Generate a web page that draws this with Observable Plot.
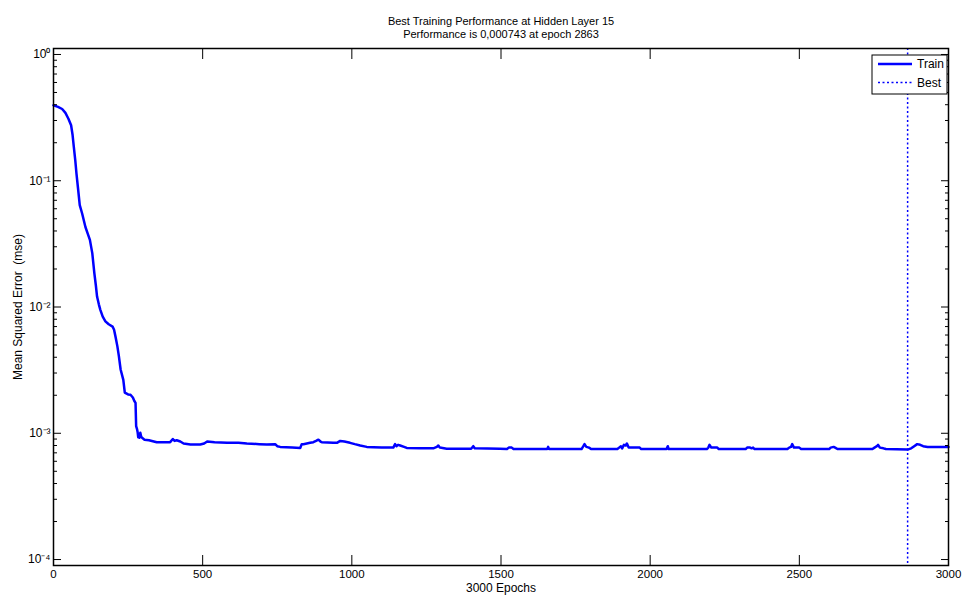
<!DOCTYPE html>
<html><head><meta charset="utf-8">
<script src="https://cdn.jsdelivr.net/npm/d3@7"></script>
<script src="https://cdn.jsdelivr.net/npm/@observablehq/plot@0.6"></script>
<style>
body{margin:0;background:#fff;}
#chart{position:relative;width:967px;height:599px;}
</style></head><body><div id="chart"></div>
<script>
// ---- data ----
const epochs = [0,15,29,40,50,59,64,68,73,77,82,88,96,107,115,122,130,137,142,146,152,157,165,174,185,198,203,208,214,219,225,234,239,250,258,266,271,275,277,280,282,284,286,288,291,294,297,305,320,346,391,400,406,413,425,436,459,492,505,515,540,582,620,648,690,715,743,750,760,800,827,832,838,860,871,880,888,895,899,938,950,961,975,994,1010,1028,1050,1072,1100,1139,1145,1150,1155,1162,1175,1184,1230,1273,1285,1290,1295,1318,1400,1407,1412,1496,1520,1526,1536,1542,1655,1658,1661,1770,1776,1780,1786,1795,1802,1890,1896,1902,1906,1912,1918,1922,1928,1965,1970,2055,2059,2062,2190,2195,2199,2205,2225,2230,2320,2325,2335,2340,2345,2350,2460,2466,2472,2476,2482,2500,2506,2600,2605,2615,2620,2628,2745,2752,2760,2764,2770,2782,2790,2863,2875,2885,2895,2905,2915,2930,3000];
const mse = [0.396,0.385,0.37,0.345,0.31,0.275,0.23,0.186,0.145,0.114,0.088,0.064,0.055,0.043,0.038,0.034,0.0267,0.0185,0.0148,0.0121,0.0105,0.0095,0.0084,0.0077,0.0073,0.0070,0.0066,0.0058,0.0049,0.0041,0.0032,0.00265,0.0021,0.00203,0.00202,0.00192,0.0018,0.00174,0.00114,0.00108,0.00102,0.00093,0.00098,0.00092,0.00101,0.00094,0.00092,0.00089,0.00088,0.00085,0.00085,0.0009,0.00087,0.00088,0.00086,0.00083,0.000815,0.000815,0.00083,0.00086,0.00085,0.00084,0.00084,0.00083,0.00082,0.000815,0.00082,0.00079,0.00078,0.00077,0.000765,0.00082,0.00082,0.00084,0.00085,0.00087,0.00089,0.00086,0.00085,0.00084,0.00084,0.00087,0.00086,0.00084,0.00082,0.0008,0.00078,0.000775,0.00077,0.00077,0.00082,0.00079,0.00081,0.0008,0.00078,0.000765,0.00076,0.00076,0.00078,0.0008,0.00077,0.000755,0.000755,0.00079,0.00076,0.000755,0.00075,0.00077,0.00077,0.00075,0.00075,0.00078,0.00075,0.00075,0.00079,0.00082,0.00078,0.00077,0.00075,0.00075,0.00077,0.00079,0.00076,0.00081,0.0008,0.00083,0.00077,0.00077,0.00075,0.00075,0.00079,0.00075,0.00075,0.00077,0.00081,0.00077,0.00077,0.00075,0.00075,0.00077,0.00077,0.00076,0.00077,0.00075,0.00075,0.00077,0.00078,0.00082,0.00077,0.00077,0.00075,0.00075,0.00077,0.00078,0.00077,0.00075,0.00075,0.00077,0.00079,0.00081,0.00077,0.00076,0.00075,0.000743,0.00076,0.00079,0.00082,0.00081,0.00079,0.00078,0.00078];
const bestEpoch = 2863;
const xTicks = [0,500,1000,1500,2000,2500,3000];
const yTicks = [1e-4,1e-3,1e-2,1e-1,1];
const yTickLabels = ["10\u207B\u2074","10\u207B\u00B3","10\u207B\u00B2","10\u207B\u00B9","10\u2070"];
const titleLines = ["Best Training Performance at Hidden Layer 15","Performance is 0,000743 at epoch 2863"];
const xLabel = "3000 Epochs";
const yLabel = "Mean Squared Error  (mse)";
const legendItems = ["Train","Best"];

// ---- chart ----
const FONT = "'Liberation Sans',Arial,sans-serif";
const BLUE = "#0000ff";
const data = epochs.map((e,i)=>({epoch:e, mse:mse[i]}));
const minor = [];
yTicks.slice(0,-1).forEach(d=>{for(let k=2;k<=9;k++) minor.push(d*k);});
const blank = ()=>"";
const M = {left:53, right:19, top:48, bottom:34};

const plot = Plot.plot({
  width:967, height:599,
  marginLeft:M.left, marginRight:M.right, marginTop:M.top, marginBottom:M.bottom,
  style:{fontFamily:FONT, fontSize:"12px", color:"#000", background:"#fff", overflow:"visible"},
  x:{domain:[0,3000]},
  y:{type:"log", domain:[0.897e-4,1.115]},
  marks:[
    Plot.ruleX([bestEpoch], {stroke:BLUE, strokeWidth:1.5, strokeDasharray:"2,2.5"}),
    Plot.line(data, {x:"epoch", y:"mse", stroke:BLUE, strokeWidth:2.5, strokeLinejoin:"round"}),
    Plot.axisX(xTicks, {anchor:"bottom", tickSize:-10, tickPadding:14, tickFormat:d=>String(d), label:null, fill:"#000", fontSize:11.5}),
    Plot.axisX(xTicks, {anchor:"top", tickSize:-10, tickFormat:blank, label:null}),
    Plot.axisY(yTicks, {anchor:"left", tickSize:-8, tickPadding:11, tickFormat:d=>yTickLabels[yTicks.indexOf(d)], label:null, fill:"#000", fontSize:12}),
    Plot.axisY(minor, {anchor:"left", tickSize:-4, tickFormat:blank, label:null}),
    Plot.axisY(yTicks, {anchor:"right", tickSize:-8, tickFormat:blank, label:null}),
    Plot.axisY(minor, {anchor:"right", tickSize:-4, tickFormat:blank, label:null}),
    Plot.frame({stroke:"#000", strokeWidth:1.5}),
    Plot.text([titleLines[0]], {frameAnchor:"top", dy:-27.5, lineAnchor:"middle", textAnchor:"middle", fill:"#000", fontSize:11}),
    Plot.text([titleLines[1]], {frameAnchor:"top", dy:-14, lineAnchor:"middle", textAnchor:"middle", fill:"#000", fontSize:11}),
    Plot.text([xLabel], {frameAnchor:"bottom", dy:23, lineAnchor:"middle", textAnchor:"middle", fill:"#000", fontSize:12}),
    Plot.text([yLabel], {frameAnchor:"left", dx:-35.5, rotate:-90, lineAnchor:"middle", textAnchor:"middle", fill:"#000", fontSize:12})
  ]
});
document.getElementById("chart").appendChild(plot);

// ---- legend (inside top-right corner of the axes box) ----
const svg = d3.select(plot);
const R = 967 - M.right, T = M.top;
const lg = svg.append("g").attr("font-family", FONT).attr("font-size", 12).attr("text-anchor", "start");
lg.append("rect").attr("x", R-76).attr("y", T+7).attr("width", 75).attr("height", 39)
  .attr("fill", "#fff").attr("stroke", "#000").attr("stroke-width", 1);
const rows = [{dash:null, w:2.5},{dash:"2,2.5", w:1.5}];
legendItems.forEach((name,i)=>{
  const y = T + 16 + i*18.5;
  lg.append("line").attr("x1", R-70).attr("x2", R-36).attr("y1", y).attr("y2", y)
    .attr("stroke", BLUE).attr("stroke-width", rows[i].w).attr("stroke-dasharray", rows[i].dash);
  lg.append("text").attr("x", R-31).attr("y", y).attr("dy", "0.35em").attr("fill", "#000").text(name);
});
</script></body></html>
